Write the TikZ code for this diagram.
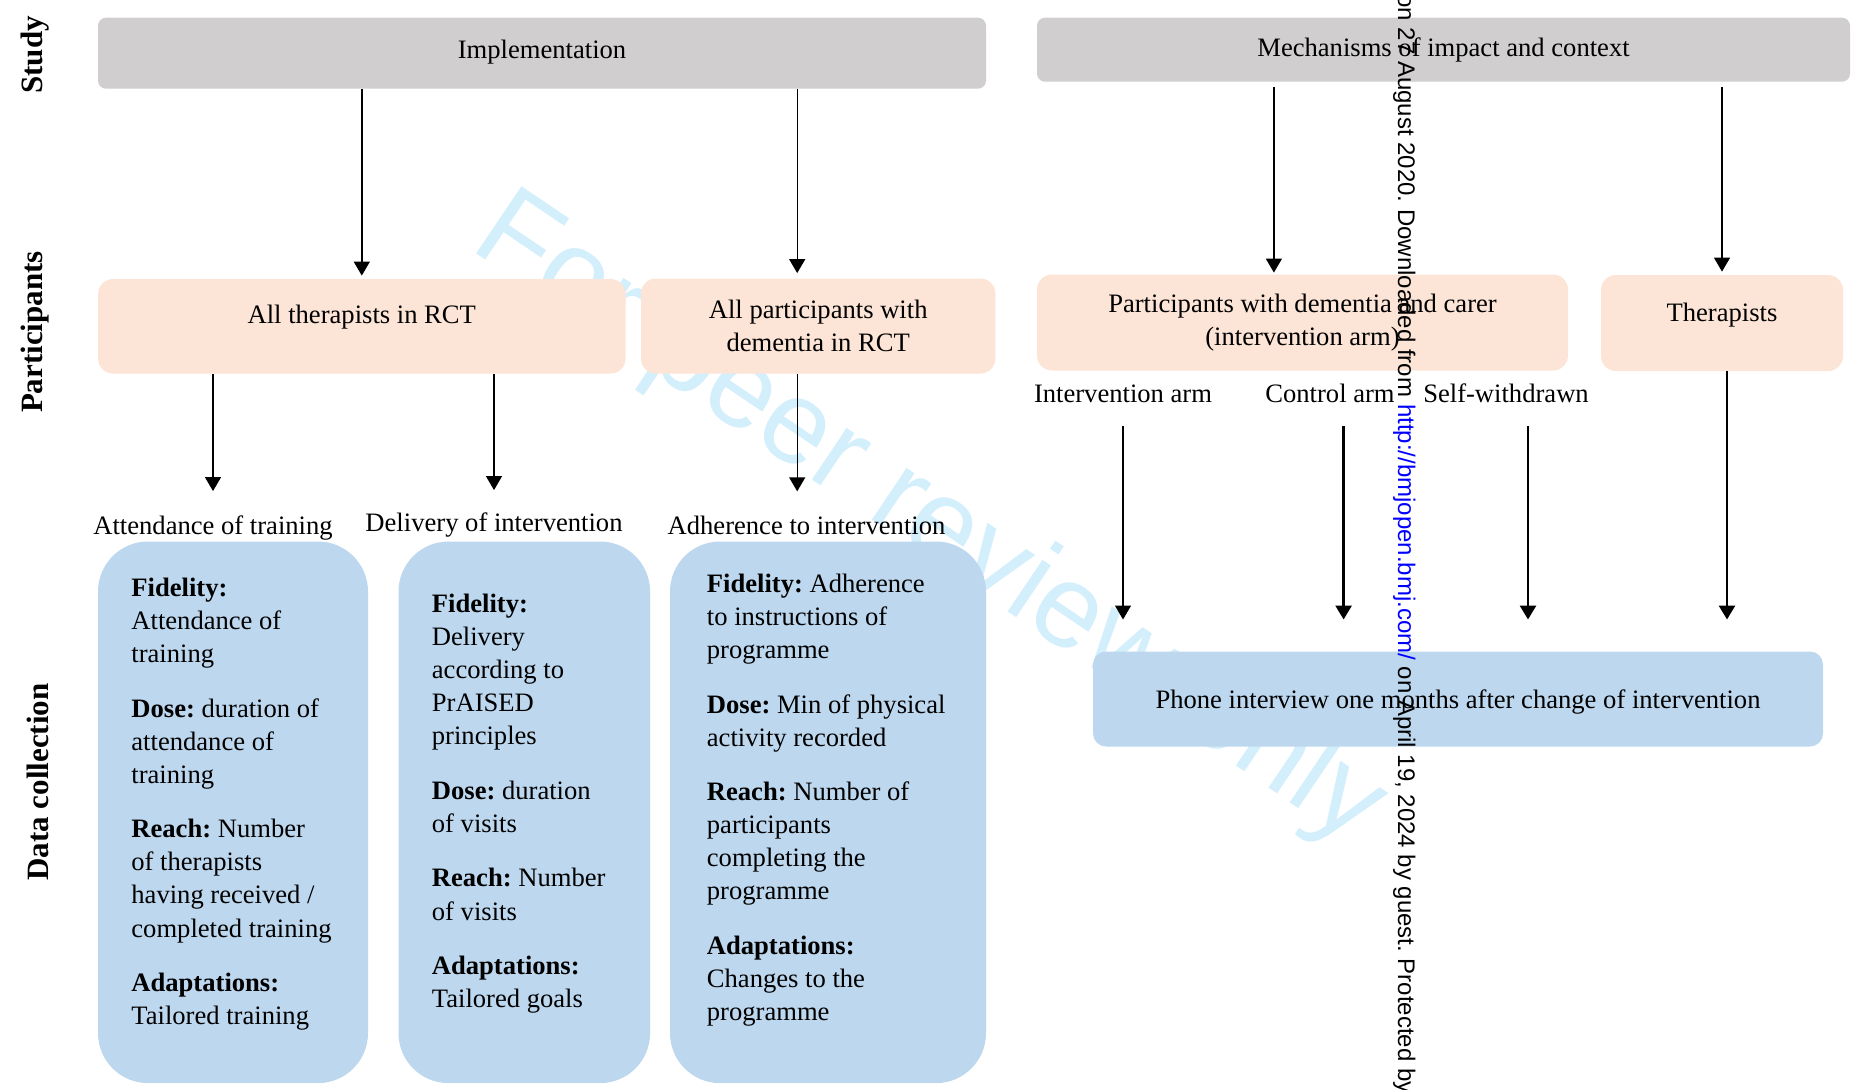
\documentclass[tikz,border=0pt]{standalone}
\usepackage{fontspec}
\setmainfont{Liberation Serif}
\newfontfamily\wmfont{Liberation Sans}
\usepackage{xcolor}
\usepackage{tikz}
\usetikzlibrary{arrows.meta}
\definecolor{studygrey}{RGB}{208,206,206}
\definecolor{partpeach}{RGB}{252,228,214}
\definecolor{collblue}{RGB}{189,215,238}
\definecolor{wmblue}{RGB}{212,239,252}
\newcommand{\bodyfont}{\fontsize{13.3}{16.55}\selectfont}
\newcommand{\blockgap}{\\[10.7pt]}
\frenchspacing
\begin{document}
\begin{tikzpicture}[x=0.5pt,y=-0.5pt]
    \tikzstyle{studybox} = [rectangle, rounded corners=4pt, fill=studygrey, font=\bodyfont, inner sep=0pt]
    \tikzstyle{partbox} = [rectangle, rounded corners=7.5pt, fill=partpeach, font=\bodyfont, align=center, inner sep=0pt]
    \tikzstyle{collbox} = [rectangle, rounded corners=25pt, fill=collblue, minimum height=270.8pt, inner sep=0pt]
    \tikzstyle{colltext} = [anchor=north west, align=left, font=\bodyfont, inner sep=0pt]
    \tikzstyle{measure} = [anchor=base, font=\bodyfont, inner sep=0pt]
    \tikzstyle{rowlabel} = [rotate=90, font=\bfseries\fontsize{15.5}{15.5}\selectfont]
    \tikzstyle{thinarrow} = [-{Triangle[width=8pt,length=7pt]}, line width=0.7pt]
    \tikzstyle{thickarrow} = [-{Triangle[width=8pt,length=7pt]}, line width=1.4pt]
    \useasboundingbox (0,0) rectangle (1854,1089);
        %%% watermark
        \node[anchor=base west, rotate=-34, inner sep=0pt, text=wmblue, font=\wmfont\fontsize{59}{59}\selectfont] (wmark) at (468,248) {For peer review only};
        %%% row labels %%%
        \node[rowlabel] (study) at (35,55) {Study};
        \node[rowlabel] (parts) at (35.5,332) {Participants};
        \node[rowlabel] (datacoll) at (38,782) {Data collection};
        %%% study %%%
        \node[studybox, minimum width=444pt, minimum height=35.5pt, text depth=4.1pt] (impl) at (542,53.2) {Implementation};
        \node[studybox, minimum width=406.5pt, minimum height=32pt] (mech) at (1443.5,49.7) {Mechanisms of impact and context};
        %%% participants %%%
        \node[partbox, minimum width=263.7pt, minimum height=47.3pt, text depth=12.1pt] (allther) at (361.8,326.3) {All therapists in RCT};
        \node[partbox, minimum width=177.2pt, minimum height=47.5pt] (allpart) at (818.2,326) {All participants with\\dementia in RCT};
        \node[partbox, minimum width=265.5pt, minimum height=48pt] (pwdc) at (1302.5,322.5) {Participants with dementia and carer\\(intervention arm)};
        \node[partbox, minimum width=121pt, minimum height=48pt, text depth=11pt] (ther) at (1722,323) {Therapists};
        \coordinate (apx) at ([xshift=-10.5pt]allpart.north);
        \coordinate (pwx) at ([xshift=-14.3pt]pwdc.north);
        \draw[thinarrow, shorten >=1.5pt] (impl.south -| allther.north) -- (allther.north);
        \draw[thinarrow, shorten >=2.5pt] (apx |- impl.south) -- (apx);
        \draw[thinarrow, shorten <=2.5pt, shorten >=0.75pt] (pwx |- mech.south) -- (pwx);
        \draw[thinarrow, shorten <=2.5pt, shorten >=1.5pt] (mech.south -| ther.north) -- (ther.north);
        %%% data collection, left %%%
        \node[measure] (att) at (213,534) {Attendance of training};
        \node[measure] (deliv) at (494,531) {Delivery of intervention};
        \node[measure] (adher) at (806.5,534) {Adherence to intervention};
        \draw[thinarrow, shorten >=11.9pt] (allther.south -| att.north) -- (att.north);
        \draw[thinarrow, shorten >=10.9pt] (allther.south -| deliv.north) -- (deliv.north);
        \draw[thinarrow, shorten >=11.9pt] (apx |- allpart.south) -- (apx |- adher.north);
        \node[collbox, minimum width=135pt] (dc1) at (233,812.3) {};
        \node[collbox, minimum width=125.8pt] (dc2) at (524.3,812.3) {};
        \node[collbox, minimum width=158pt] (dc3) at (828,812.3) {};
        \node[colltext] (dc1text) at (131,577.5) {\textbf{Fidelity:}\\Attendance of\\training\blockgap
            \textbf{Dose:} duration of\\attendance of\\training\blockgap
            \textbf{Reach:} Number\\of therapists\\having received /\\completed training\blockgap
            \textbf{Adaptations:}\\Tailored training};
        \node[colltext] (dc2text) at (431.5,593.6) {\textbf{Fidelity:}\\Delivery\\according to\\PrAISED\\principles\blockgap
            \textbf{Dose:} duration\\of visits\blockgap
            \textbf{Reach:} Number\\of visits\blockgap
            \textbf{Adaptations:}\\Tailored goals};
        \node[colltext] (dc3text) at (706.5,573.5) {\textbf{Fidelity:} Adherence\\to instructions of\\programme\blockgap
            \textbf{Dose:} Min of physical\\activity recorded\blockgap
            \textbf{Reach:} Number of\\participants\\completing the\\programme\blockgap
            \textbf{Adaptations:}\\Changes to the\\programme};
        %%% data collection, right %%%
        \node[measure] (iarm) at (1123,402) {Intervention arm};
        \node[measure] (carm) at (1330,402) {Control arm};
        \node[measure] (swarm) at (1506,402) {Self-withdrawn};
        \node[rectangle, rounded corners=6.5pt, fill=collblue, font=\bodyfont, minimum width=365pt, minimum height=47.5pt, text height=12.6pt] (phone) at (1458,699) {Phone interview one months after change of intervention};
        \coordinate (cax) at ([xshift=6.8pt]carm.south);
        \coordinate (swx) at ([xshift=11pt]swarm.south);
        \coordinate (thx) at ([xshift=2.5pt]ther.south);
        \draw[thinarrow, shorten <=11.5pt, shorten >=15.8pt] (iarm.south) -- (iarm.south |- phone.north);
        \draw[thickarrow, shorten <=11.5pt, shorten >=15.8pt] (cax) -- (cax |- phone.north);
        \draw[thickarrow, shorten <=11.5pt, shorten >=15.8pt] (swx) -- (swx |- phone.north);
        \draw[thickarrow, shorten >=15.8pt] (thx) -- (thx |- phone.north);
        %%% download note
        \node[anchor=base west, rotate=-90, inner sep=0pt, font=\wmfont\fontsize{12}{12}\selectfont] (dlnote) at (1398,-6) {on 27 August 2020. Downloaded from \textcolor{blue}{http://bmjopen.bmj.com/} on April 19, 2024 by guest. Protected by};
    \end{tikzpicture}
\end{document}
